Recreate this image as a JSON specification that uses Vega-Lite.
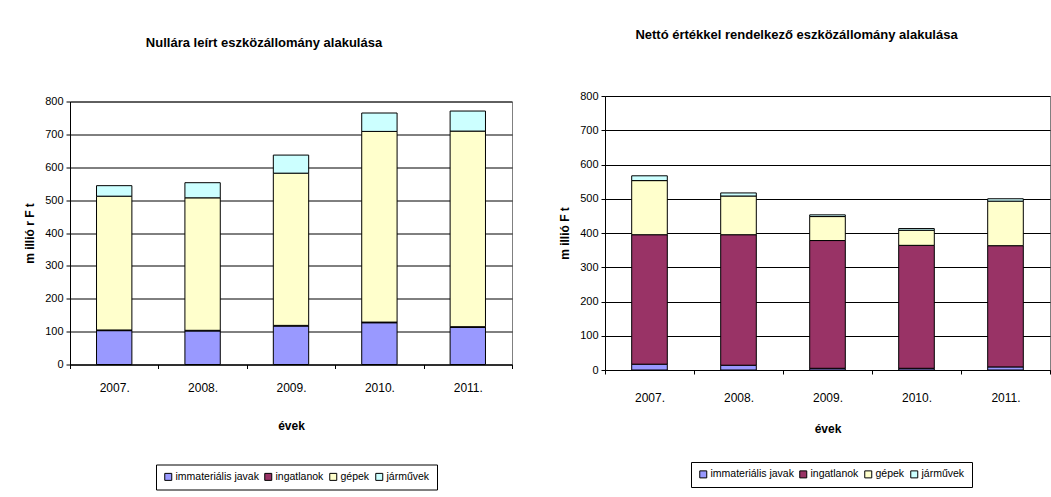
{
  "$schema": "https://vega.github.io/schema/vega-lite/v6.json",
  "background": "white",
  "padding": {"left": 23, "top": 28, "right": 0, "bottom": 0},
  "bounds": "flush",
  "center": true,
  "spacing": 93,
  "config": {
    "font": "Liberation Sans",
    "view": {"stroke": "#808080", "strokeWidth": 1},
    "axis": {
      "labelFont": "Liberation Sans",
      "labelFontSize": 11,
      "labelColor": "black",
      "titleFont": "Liberation Sans",
      "titleFontSize": 12,
      "titleFontWeight": "bold",
      "titleColor": "black",
      "domainColor": "black",
      "tickColor": "black",
      "tickSize": 4,
      "gridColor": "black",
      "gridOpacity": 1
    },
    "axisX": {"labelFontSize": 12},
    "legend": {
      "labelFont": "Liberation Sans",
      "labelFontSize": 10.5,
      "labelColor": "black"
    },
    "title": {"font": "Liberation Sans", "fontSize": 13, "fontWeight": "bold", "color": "black", "anchor": "middle"}
  },
  "datasets": {
    "nulla": [
      {"ev": "2007.", "tipus": "immateriális javak", "sorrend": 1, "ertek": 103},
      {"ev": "2007.", "tipus": "ingatlanok", "sorrend": 2, "ertek": 2},
      {"ev": "2007.", "tipus": "gépek", "sorrend": 3, "ertek": 407},
      {"ev": "2007.", "tipus": "járművek", "sorrend": 4, "ertek": 32},
      {"ev": "2008.", "tipus": "immateriális javak", "sorrend": 1, "ertek": 102},
      {"ev": "2008.", "tipus": "ingatlanok", "sorrend": 2, "ertek": 2},
      {"ev": "2008.", "tipus": "gépek", "sorrend": 3, "ertek": 403},
      {"ev": "2008.", "tipus": "járművek", "sorrend": 4, "ertek": 46},
      {"ev": "2009.", "tipus": "immateriális javak", "sorrend": 1, "ertek": 117},
      {"ev": "2009.", "tipus": "ingatlanok", "sorrend": 2, "ertek": 2},
      {"ev": "2009.", "tipus": "gépek", "sorrend": 3, "ertek": 463},
      {"ev": "2009.", "tipus": "járművek", "sorrend": 4, "ertek": 55},
      {"ev": "2010.", "tipus": "immateriális javak", "sorrend": 1, "ertek": 127},
      {"ev": "2010.", "tipus": "ingatlanok", "sorrend": 2, "ertek": 2},
      {"ev": "2010.", "tipus": "gépek", "sorrend": 3, "ertek": 580},
      {"ev": "2010.", "tipus": "járművek", "sorrend": 4, "ertek": 56},
      {"ev": "2011.", "tipus": "immateriális javak", "sorrend": 1, "ertek": 113},
      {"ev": "2011.", "tipus": "ingatlanok", "sorrend": 2, "ertek": 2},
      {"ev": "2011.", "tipus": "gépek", "sorrend": 3, "ertek": 595},
      {"ev": "2011.", "tipus": "járművek", "sorrend": 4, "ertek": 61}
    ],
    "netto": [
      {"ev": "2007.", "tipus": "immateriális javak", "sorrend": 1, "ertek": 17},
      {"ev": "2007.", "tipus": "ingatlanok", "sorrend": 2, "ertek": 378},
      {"ev": "2007.", "tipus": "gépek", "sorrend": 3, "ertek": 158},
      {"ev": "2007.", "tipus": "járművek", "sorrend": 4, "ertek": 14},
      {"ev": "2008.", "tipus": "immateriális javak", "sorrend": 1, "ertek": 14},
      {"ev": "2008.", "tipus": "ingatlanok", "sorrend": 2, "ertek": 381},
      {"ev": "2008.", "tipus": "gépek", "sorrend": 3, "ertek": 113},
      {"ev": "2008.", "tipus": "járművek", "sorrend": 4, "ertek": 9},
      {"ev": "2009.", "tipus": "immateriális javak", "sorrend": 1, "ertek": 5},
      {"ev": "2009.", "tipus": "ingatlanok", "sorrend": 2, "ertek": 373},
      {"ev": "2009.", "tipus": "gépek", "sorrend": 3, "ertek": 70},
      {"ev": "2009.", "tipus": "járművek", "sorrend": 4, "ertek": 5},
      {"ev": "2010.", "tipus": "immateriális javak", "sorrend": 1, "ertek": 5},
      {"ev": "2010.", "tipus": "ingatlanok", "sorrend": 2, "ertek": 359},
      {"ev": "2010.", "tipus": "gépek", "sorrend": 3, "ertek": 44},
      {"ev": "2010.", "tipus": "járművek", "sorrend": 4, "ertek": 5},
      {"ev": "2011.", "tipus": "immateriális javak", "sorrend": 1, "ertek": 9},
      {"ev": "2011.", "tipus": "ingatlanok", "sorrend": 2, "ertek": 354},
      {"ev": "2011.", "tipus": "gépek", "sorrend": 3, "ertek": 130},
      {"ev": "2011.", "tipus": "járművek", "sorrend": 4, "ertek": 7}
    ]
  },
  "resolve": {"scale": {"color": "independent"}, "legend": {"color": "independent"}},
  "hconcat": [
    {
      "width": 442,
      "height": 263,
      "title": {"text": "Nullára leírt eszközállomány alakulása", "offset": 46, "dx": -27},
      "data": {"name": "nulla"},
      "mark": {"type": "bar", "width": {"band": 0.4}, "stroke": "black", "strokeWidth": 1},
      "encoding": {
        "x": {
          "field": "ev", "type": "ordinal",
          "scale": {"paddingInner": 0, "paddingOuter": 0},
          "axis": {"title": "évek", "labelAngle": 0, "tickBand": "extent", "grid": false, "labelPadding": 14, "titlePadding": 27}
        },
        "y": {
          "field": "ertek", "type": "quantitative", "stack": "zero",
          "scale": {"domain": [0, 800], "nice": false},
          "axis": {"title": "m illió r F t", "values": [0, 100, 200, 300, 400, 500, 600, 700, 800], "labelPadding": 3, "titlePadding": 8}
        },
        "order": {"field": "sorrend", "sort": "ascending"},
        "color": {
          "field": "tipus", "type": "nominal",
          "scale": {"domain": ["immateriális javak", "ingatlanok", "gépek", "járművek"], "range": ["#9999FF", "#993366", "#FFFFCC", "#CCFFFF"]},
          "legend": {"title": null, "orient": "none", "legendX": 86, "legendY": 363, "direction": "horizontal", "strokeColor": "black", "padding": 7, "symbolType": "square", "symbolSize": 49, "symbolStrokeColor": "black", "symbolStrokeWidth": 1, "columnPadding": 3, "labelOffset": 2}
        }
      }
    },
    {
      "width": 445,
      "height": 274,
      "title": {"text": "Nettó értékkel rendelkező eszközállomány alakulása", "offset": 48, "dx": -31},
      "data": {"name": "netto"},
      "mark": {"type": "bar", "width": {"band": 0.4}, "stroke": "black", "strokeWidth": 1},
      "encoding": {
        "x": {
          "field": "ev", "type": "ordinal",
          "scale": {"paddingInner": 0, "paddingOuter": 0},
          "axis": {"title": "évek", "labelAngle": 0, "tickBand": "extent", "grid": false, "labelPadding": 18, "titlePadding": 20}
        },
        "y": {
          "field": "ertek", "type": "quantitative", "stack": "zero",
          "scale": {"domain": [0, 800], "nice": false},
          "axis": {"title": "m illió F t", "values": [0, 100, 200, 300, 400, 500, 600, 700, 800], "labelPadding": 3, "titlePadding": 8}
        },
        "order": {"field": "sorrend", "sort": "ascending"},
        "color": {
          "field": "tipus", "type": "nominal",
          "scale": {"domain": ["immateriális javak", "ingatlanok", "gépek", "járművek"], "range": ["#9999FF", "#993366", "#FFFFCC", "#CCFFFF"]},
          "legend": {"title": null, "orient": "none", "legendX": 86, "legendY": 366, "direction": "horizontal", "strokeColor": "black", "padding": 7, "symbolType": "square", "symbolSize": 49, "symbolStrokeColor": "black", "symbolStrokeWidth": 1, "columnPadding": 3, "labelOffset": 2}
        }
      }
    }
  ]
}
